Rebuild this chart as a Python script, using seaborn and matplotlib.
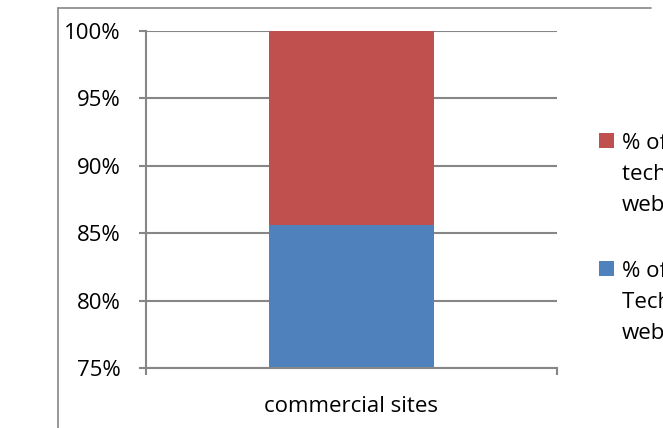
import matplotlib
matplotlib.use("Agg")
import matplotlib.pyplot as plt
import seaborn as sns
import pandas as pd
from matplotlib.patches import Rectangle
from matplotlib.lines import Line2D

categories = ["commercial sites"]
pct_using = [85.6]
pct_not_using = [14.4]
series_labels = ["% of sites not using the\ntechnology in their\nwebsites",
                 "% of sites using the\nTechnology in their\nwebsites"]
yticks = [75, 80, 85, 90, 95, 100]
ytick_labels = ["75%", "80%", "85%", "90%", "95%", "100%"]

sns.set_theme(style="white")
plt.rcParams['font.family'] = ['Open Sans', 'DejaVu Sans']

W, H = 663, 428
FS = 16
fig = plt.figure(figsize=(W / 100, H / 100), dpi=100)
ax = fig.add_axes([146 / W, 1 - 368 / H, (557 - 146) / W, (368 - 31) / H])

blue = "#4F81BD"
red = "#C0504D"
grid_c = "#868686"

df = pd.DataFrame({"cat": categories, "using": pct_using, "not": pct_not_using})
sns.barplot(data=df, x="cat", y="using", color=blue, saturation=1, width=0.4,
            linewidth=0, ax=ax)
sns.barplot(data=df, x="cat", y="not", color=red, saturation=1, width=0.4,
            bottom=df["using"], linewidth=0, ax=ax)

ax.set_ylim(75, 100)
ax.set_xlim(-0.5, 0.5)
ax.set_yticks(yticks)
ax.set_yticklabels(ytick_labels, fontsize=FS, color="black")
ax.set_xticks([0])
ax.set_xticklabels(categories, fontsize=FS, color="black")
ax.set_xticks([-0.5, 0.5], minor=True)
ax.set_xlabel("")
ax.set_ylabel("")
ax.yaxis.grid(True, color=grid_c, linewidth=1.5)
ax.set_axisbelow(True)
for s in ["top", "right"]:
    ax.spines[s].set_visible(False)
for s in ["left", "bottom"]:
    ax.spines[s].set_color(grid_c)
    ax.spines[s].set_linewidth(1.5)
ax.tick_params(axis="y", which="major", left=True, length=5, width=1.5,
               color=grid_c, pad=13)
ax.tick_params(axis="x", which="major", bottom=False, pad=14)
ax.tick_params(axis="x", which="minor", bottom=True, length=5, width=1.5, color=grid_c)

# outer chart border
fig.add_artist(Line2D([58 / W, 651 / W], [1 - 8 / H, 1 - 8 / H], color=grid_c, lw=1.2))
fig.add_artist(Line2D([58 / W, 58 / W], [1 - 8 / H, 0], color=grid_c, lw=1.2))

# legend (manual), first-line baselines at y=149 and y=277 px, 31 px line step
for (base, col, lab) in [(149, red, series_labels[0]), (277, blue, series_labels[1])]:
    fig.add_artist(Rectangle((599 / W, 1 - (base - 1) / H), 15 / W, 15 / H,
                             facecolor=col, edgecolor="none", transform=fig.transFigure))
    for i, line in enumerate(lab.split("\n")):
        fig.text(622 / W, 1 - (base + 31 * i) / H, line, fontsize=FS,
                 va="baseline", ha="left", color="black")

fig.savefig("out.png", dpi=100)
